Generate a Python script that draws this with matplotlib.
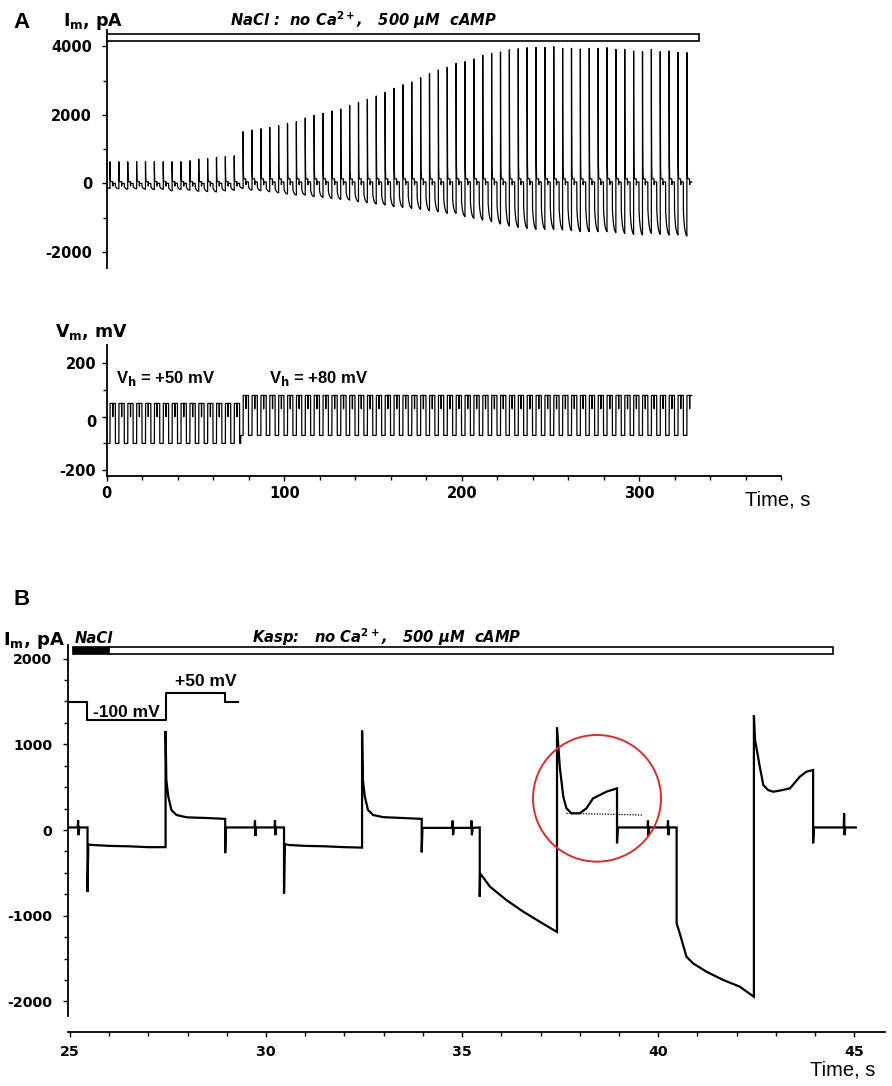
import numpy as np
import matplotlib
matplotlib.use('Agg')
import matplotlib.pyplot as plt
from matplotlib.patches import Rectangle, Ellipse
from matplotlib.ticker import MultipleLocator

plt.rcParams['font.family'] = ['Liberation Sans', 'DejaVu Sans']
plt.rcParams['axes.unicode_minus'] = False
plt.rcParams['mathtext.fontset'] = 'custom'
plt.rcParams['mathtext.rm'] = 'DejaVu Sans:bold'
plt.rcParams['mathtext.it'] = 'DejaVu Sans:bold:italic'
plt.rcParams['mathtext.bf'] = 'DejaVu Sans:bold'
plt.rcParams['mathtext.default'] = 'rm'

# ---------------- Panel A data ----------------
A_period = 5.0          # s between test pulses
A_first_step = 1.86     # s, first step
A_n_seg1 = 15           # pulses at Vh = +50 mV
A_end = 329.6           # s, end of recording
A_switch = 75.5         # s, holding potential change
# peak outward current at each step (pA)
A_peak = [630, 630, 630, 630, 630, 630, 630, 630, 630, 660, 710, 730, 760, 780, 805,
          1507, 1556, 1594, 1635, 1682, 1752, 1799, 1907, 1985, 2044, 2111, 2169,
          2277, 2365, 2453, 2549, 2657, 2774, 2879, 2958, 3083, 3200, 3308, 3387,
          3503, 3552, 3630, 3737, 3796, 3834, 3902, 3931, 3960, 3970, 3970, 3990,
          3942, 3942, 3922, 3942, 3942, 3960, 3912, 3912, 3863, 3843, 3912, 3843,
          3863, 3825, 3815]
# most negative current in the hyperpolarising step preceding each pulse (pA)
A_trough = [-150, -160, -170, -160, -170, -180, -170, -220, -180, -200, -230, -240, -250, -220, -200,
            -146, -196, -216, -245, -274, -313, -342, -342, -391, -410, -440, -469,
            -488, -537, -566, -604, -634, -683, -701, -731, -760, -800, -829, -876,
            -876, -973, -1022, -1071, -1120, -1188, -1247, -1285, -1314, -1343, -1343,
            -1343, -1363, -1383, -1412, -1412, -1412, -1412, -1441, -1460, -1489,
            -1509, -1460, -1489, -1509, -1509, -1539]
A_plateau = [50, 130]     # pA, steady current in test step (seg1, seg2)
A_hold = [0, 40]          # pA, current at holding potential
A_V_high = [50, 80]       # mV
A_V_notch = [0, 30]       # mV
A_V_low = [-100, -70]     # mV
A_bar = [0, 333.9]        # solution bar (s)
A_V_ticks = [-200, 0, 200]
A_V_ticklabels = ['-200', '', '200']

# ---------------- Panel B data ----------------
B_time = [24.97, 25.20, 25.21, 25.22, 25.24, 25.45, 25.45, 25.47, 25.60, 26.00, 26.50, 27.00, 27.44,
          27.44, 27.46, 27.51, 27.59, 27.72, 27.98, 28.50, 28.96,
          28.96, 28.98, 29.71, 29.72, 29.73, 29.75, 30.22, 30.23, 30.24, 30.26, 30.46,
          30.46, 30.48, 30.60, 31.00, 31.50, 32.00, 32.45,
          32.45, 32.47, 32.52, 32.60, 32.73, 32.99, 33.50, 33.97,
          33.97, 33.99, 34.75, 34.76, 34.77, 34.79, 35.23, 35.24, 35.25, 35.27, 35.45,
          35.45, 35.46, 35.71, 36.13, 36.56, 36.98, 37.42,
          37.42, 37.49, 37.58, 37.66, 37.79, 38.00, 38.17, 38.34, 38.51, 38.68, 38.95,
          38.95, 38.97, 39.73, 39.74, 39.75, 39.77, 40.24, 40.25, 40.26, 40.28, 40.47,
          40.47, 40.55, 40.72, 40.89, 41.23, 41.66, 42.08, 42.44,
          42.44, 42.47, 42.59, 42.68, 42.80, 42.93, 43.10, 43.36, 43.61, 43.78, 43.95,
          43.95, 43.97, 44.73, 44.74, 44.75, 44.77, 45.04]
B_current = [30, 30, 115, -60, 30, 30, -720, -170, -175, -185, -190, -200, -200,
             1155, 583, 389, 233, 175, 148, 140, 130,
             -270, 30, 30, 110, -70, 30, 30, 115, -60, 30, 30,
             -740, -165, -175, -185, -190, -200, -205,
             1160, 590, 390, 235, 175, 150, 140, 130,
             -260, 25, 25, 110, -60, 25, 25, 110, -60, 25, 30,
             -780, -505, -661, -817, -953, -1070, -1190,
             1200, 740, 390, 253, 195, 195, 253, 370, 408, 447, 486,
             -155, 30, 30, 110, -70, 30, 30, 110, -60, 30, 30,
             -1089, -1206, -1478, -1556, -1653, -1750, -1828, -1945,
             1340, 1050, 739, 525, 467, 447, 460, 486, 622, 681, 700,
             -155, 30, 30, 195, -60, 30, 30]
B_proto_t = [24.97, 25.44, 25.44, 27.44, 27.44, 28.96, 28.96, 29.28]
B_proto_i = [1490, 1490, 1284, 1284, 1595, 1595, 1490, 1490]
B_dot_t = [37.66, 39.62]
B_dot_i = [195, 175]
B_circle = (38.44, 370)
B_bar_black = [25.07, 26.0]
B_bar_white = [26.0, 44.45]

# ---------------- build panel A traces ----------------
n = len(A_peak)
peak = np.array(A_peak, float)
trough = np.array(A_trough, float)
segidx = (np.arange(n) >= A_n_seg1).astype(int)
starts = A_first_step + A_period * np.arange(n)
t = np.union1d(np.round(np.arange(0, A_end, 0.01), 4), np.round(starts, 4))
k = np.searchsorted(starts, t + 1e-9, side='right') - 1
I = np.zeros_like(t)
V = np.zeros_like(t)
plat = np.array(A_plateau, float)
hold = np.array(A_hold, float)
vh = np.array(A_V_high, float)
vn = np.array(A_V_notch, float)
vl = np.array(A_V_low, float)


def low_shape(tau):
    tau = np.clip(tau, 0, 2.0)
    return 0.5 + 0.5 * (1 - np.exp(-tau / 0.7)) / (1 - np.exp(-2.0 / 0.7))


pre = k < 0
I[pre] = trough[0] * low_shape(t[pre] - (starts[0] - 2.0))
V[pre] = vl[0]
kk = np.clip(k, 0, n - 1)
ph = t - starts[kk]
s = segidx[kk]
m1 = (~pre) & (ph < 1.5)
I[m1] = plat[s[m1]] + (peak[kk[m1]] - plat[s[m1]]) * np.exp(-ph[m1] / 0.08)
V[m1] = vh[s[m1]]
m2 = (~pre) & (ph >= 1.5) & (ph < 3.0)
I[m2] = hold[s[m2]]
V[m2] = vh[s[m2]]
mn = (~pre) & (ph >= 1.5) & (ph < 1.58)
I[mn] = hold[s[mn]] - 80
V[mn] = vn[s[mn]]
m3 = (~pre) & (ph >= 3.0)
kn = np.clip(kk + 1, 0, n - 1)
I[m3] = trough[kn[m3]] * low_shape(ph[m3] - 3.0)
segn = segidx[kn].copy()
segn[(kn == A_n_seg1) & (t < A_switch)] = 0
V[m3] = vl[segn[m3]]

# ---------------- figure ----------------
W, H = 892, 1086
fig = plt.figure(figsize=(W / 100, H / 100), dpi=100)


def fx(x):
    return x / W


def fy(y):
    return 1 - y / H


def style(ax, size, left=True, bottom=True):
    for sp in ['top', 'right']:
        ax.spines[sp].set_visible(False)
    ax.spines['left'].set_visible(left)
    ax.spines['bottom'].set_visible(bottom)
    for sp in ['left', 'bottom']:
        ax.spines[sp].set_linewidth(1.3)
    ax.tick_params(which='both', direction='out', width=1.0, labelsize=size,
                   labelfontfamily='DejaVu Sans')
    ax.tick_params(which='major', length=3.5)
    ax.tick_params(which='minor', length=3.0)
    ax.patch.set_alpha(0)


def bold_labels(ax):
    for lab in ax.get_xticklabels() + ax.get_yticklabels():
        lab.set_fontweight('bold')


# A top: current
axA1 = fig.add_axes([fx(106.7), fy(268.3), 674.5 / W, 238.3 / H])
axA1.plot(t, I, color='black', lw=0.9)
axA1.set_xlim(0, 380)
axA1.set_ylim(-2480, 4476)
axA1.set_yticks([-2000, 0, 2000, 4000])
axA1.yaxis.set_minor_locator(MultipleLocator(1000))
axA1.set_xticks([])
style(axA1, 10.5, left=True, bottom=False)
axA1.tick_params(axis='y', pad=7)
bold_labels(axA1)
axA1.add_patch(Rectangle((A_bar[0], 4155), A_bar[1] - A_bar[0], 195,
                         facecolor='white', edgecolor='black', lw=1.2, clip_on=False, zorder=3))

# A bottom: voltage
axA2 = fig.add_axes([fx(106.7), fy(476), 674.5 / W, 131 / H])
axA2.plot(t, V, color='black', lw=0.9)
axA2.set_xlim(0, 380)
axA2.set_ylim(-222, 269)
axA2.set_yticks(A_V_ticks)
axA2.set_yticklabels(A_V_ticklabels)
axA2.yaxis.set_minor_locator(MultipleLocator(100))
axA2.set_xticks([0, 100, 200, 300])
axA2.xaxis.set_minor_locator(MultipleLocator(20))
style(axA2, 10.5)
axA2.tick_params(axis='y', pad=4)
axA2.tick_params(axis='x', pad=4)
bold_labels(axA2)
# the "0" label sits slightly below its tick in the original figure
axA2.annotate('0', xy=(0, 0), xycoords=('axes fraction', 'data'), xytext=(-10.5, -6),
              textcoords='offset pixels', ha='right', va='center', fontsize=10.5,
              fontweight='bold', family='DejaVu Sans')

# B
axB = fig.add_axes([fx(68.3), fy(1016), 816.6 / W, 371.1 / H])
axB.plot(B_time, B_current, color='black', lw=1.6, solid_joinstyle='miter')
axB.plot(B_proto_t, B_proto_i, color='black', lw=1.5)
axB.plot(B_dot_t, B_dot_i, color='black', lw=0.9, ls=(0, (1, 1.2)))
axB.add_patch(Ellipse(B_circle, 3.264, 1478, facecolor='none', edgecolor='#e02a2a', lw=1.4, zorder=4))
axB.set_xlim(24.96, 45.78)
axB.set_ylim(-2170, 2160)
axB.set_yticks([-2000, -1000, 0, 1000, 2000])
axB.yaxis.set_minor_locator(MultipleLocator(250))
axB.set_xticks([25, 30, 35, 40, 45])
axB.xaxis.set_minor_locator(MultipleLocator(1))
style(axB, 10.2)
axB.spines['bottom'].set_position(('outward', 11.7))
axB.tick_params(axis='y', pad=8)
axB.tick_params(axis='x', pad=6)
bold_labels(axB)
axB.add_patch(Rectangle((B_bar_black[0], 2054), B_bar_black[1] - B_bar_black[0], 85,
                        facecolor='black', edgecolor='black', lw=1.2, clip_on=False, zorder=3))
axB.add_patch(Rectangle((B_bar_white[0], 2054), B_bar_white[1] - B_bar_white[0], 85,
                        facecolor='white', edgecolor='black', lw=1.2, clip_on=False, zorder=3))

# ---------------- texts ----------------
def T(x, y, s, size=12, weight='bold', style='normal', ha='left', family=None):
    kw = {}
    if family is not None:
        kw['family'] = family
    fig.text(fx(x), fy(y), s, ha=ha, va='baseline', fontsize=size, fontweight=weight,
             fontstyle=style, **kw)


DV = ['DejaVu Sans']
T(22, 28, 'A', size=16, ha='center')
T(63, 26, r'I$_\mathrm{m}$, pA', size=12.5, family=DV)
T(363.5, 26, r'NaCl :  no Ca$^{2+}$,   500 µM  cAMP', size=10.6, style='italic', ha='center', family=DV)
T(55, 337, r'V$_\mathrm{m}$, mV', size=12.5, family=DV)
T(116, 383, r'V$_\mathrm{h}$ = +50 mV', size=12)
T(269, 383, r'V$_\mathrm{h}$ = +80 mV', size=12)
T(745, 505, 'Time, s', size=14.5, weight='normal')

T(21.5, 605, 'B', size=16, ha='center')
T(3, 645, r'I$_\mathrm{m}$, pA', size=13, family=DV)
T(75, 643, 'NaCl', size=10.6, style='italic', family=DV)
T(251.7, 643, r'Kasp:   no Ca$^{2+}$,   500 µM  cAMP', size=10.6, style='italic', family=DV)
T(93, 717, '-100 mV', size=12.5)
T(175, 686.5, '+50 mV', size=12.5)
T(810, 1075, 'Time, s', size=14.5, weight='normal')

fig.savefig('out.png', dpi=100)
